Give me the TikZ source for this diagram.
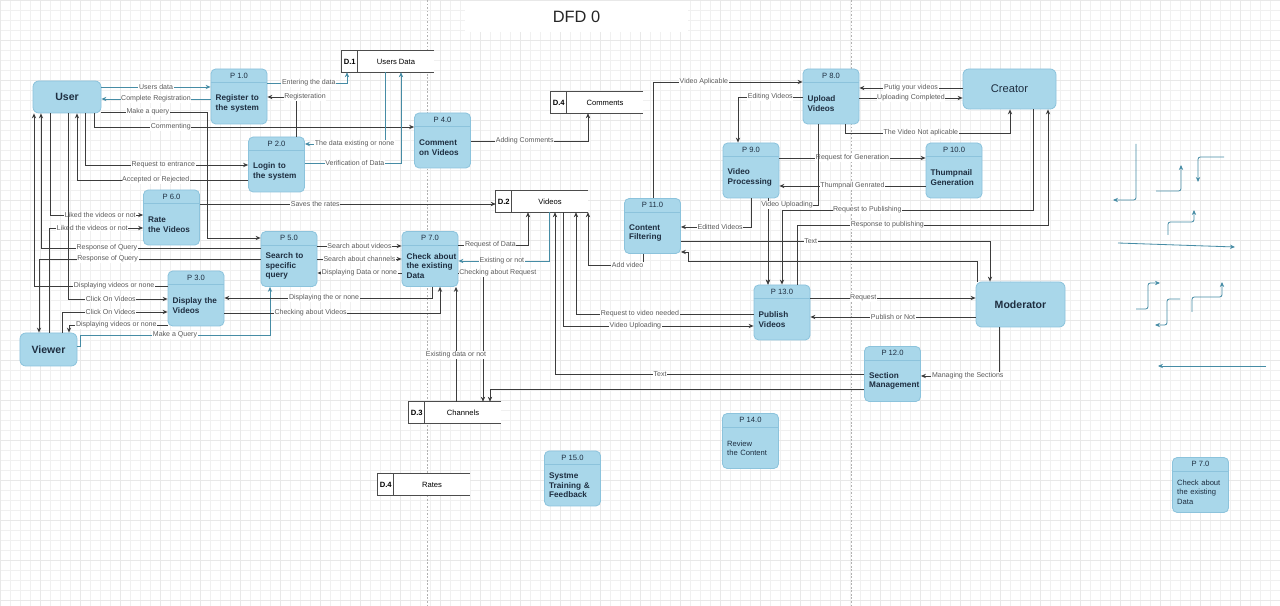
\documentclass[tikz,border=0pt]{standalone}
\usepackage{fontspec}
\setmainfont{Liberation Sans}
\usetikzlibrary{arrows.meta, positioning, calc}
\definecolor{procfill}{HTML}{A9D7EA}
\definecolor{procedge}{HTML}{8CC3DC}
\definecolor{flowline}{HTML}{3C3C3C}
\definecolor{tealline}{HTML}{468CA5}
\definecolor{lblgray}{HTML}{5A5A5A}
\definecolor{inktext}{HTML}{1E2E40}

\begin{document}
\begin{tikzpicture}[x=0.3mm, y=-0.3mm,
    gridminor/.style={step=3mm, draw=black!6, line width=0.3pt},
    gridmajor/.style={step=12mm, draw=black!9, line width=0.3pt},
    pagebreak/.style={draw=black!30, dash pattern=on 1.5pt off 1.5pt, line width=0.5pt},
    titlebox/.style={rectangle, fill=white, minimum width=66.9mm, minimum height=9.3mm,
                     font=\fontsize{14}{16}\selectfont, text=black!85},
    process/.style={rectangle, rounded corners=4pt, draw=procedge, fill=procfill, line width=0.7pt,
                    minimum width=16.8mm, minimum height=16.5mm, inner sep=0pt},
    prochead/.style={font=\fontsize{6.5}{7}\selectfont, text=inktext, inner sep=0pt},
    procbody/.style={font=\bfseries\fontsize{7}{8.2}\selectfont, text=inktext, text width=14mm,
                     align=left, inner sep=0pt},
    procbold/.style={},
    procplain/.style={font=\fontsize{6.5}{8}\selectfont},
    entity/.style={rectangle, rounded corners=5pt, draw=procedge, fill=procfill, line width=0.7pt,
                   font=\bfseries\fontsize{9}{10}\selectfont, text=inktext, inner sep=0pt},
    datastore/.style={rectangle, fill=white, minimum width=27.6mm, minimum height=6.3mm, inner sep=0pt},
    storeline/.style={draw=black!70, line width=0.6pt},
    storeid/.style={font=\bfseries\fontsize{6.5}{7}\selectfont, inner sep=0pt},
    storename/.style={font=\fontsize{6.5}{7}\selectfont, inner sep=0pt},
    dataflow/.style={draw=flowline, line width=0.7pt, -{Stealth[length=1.5mm, width=1.3mm]}},
    tflow/.style={dataflow, draw=tealline},
    lbl/.style={font=\fontsize{6}{7}\selectfont, text=lblgray, fill=white, inner sep=0.5pt},
]
% Canvas
\fill[white] (0,0) rectangle (1280,606);
\useasboundingbox (0,0) rectangle (1280,606);
\draw[gridminor] (0,0) grid (1280,606);
\draw[gridmajor] (0,0) grid (1280,606);
\draw[pagebreak] (427,0) -- (427,606);
\draw[pagebreak] (851,0) -- (851,606);
\node[titlebox] (title) at (576.5,17) {DFD 0};

% External entities
\node[entity, minimum width=20.4mm, minimum height=9.6mm] (user) at (67,97) {User};
\node[entity, minimum width=17.1mm, minimum height=9.9mm] (viewer) at (48.5,349.5) {Viewer};
\node[entity, minimum width=27.9mm, minimum height=12mm, font=\fontsize{9.5}{11}\selectfont] (creator) at (1009.5,89) {Creator};
\node[entity, minimum width=26.7mm, minimum height=13.5mm] (moderator) at (1020.5,304.5) {Moderator};

% Processes
\foreach \n/\cx/\cy/\pid/\txt/\wt in {
    p1/239/96.5/P 1.0/{Register to\\the system}/procbold,
    p2/276.5/164.5/P 2.0/{Login to\\the system}/procbold,
    p4/442.5/140.5/P 4.0/{Comment\\on Videos}/procbold,
    p6/171.5/217.5/P 6.0/{Rate\\the Videos}/procbold,
    p5/289/259/P 5.0/{Search to\\specific\\query}/procbold,
    p7/430/259/P 7.0/{\mbox{Check about}\\the existing\\Data}/procbold,
    p3/196/298.5/P 3.0/{Display the\\Videos}/procbold,
    p8/831/96.5/P 8.0/{Upload\\Videos}/procbold,
    p9/751/170.5/P 9.0/{Video\\Processing}/procbold,
    p10/954/170.5/P 10.0/{Thumpnail\\Generation}/procbold,
    p11/652.5/226/P 11.0/{Content\\Filtering}/procbold,
    p13/782/312.5/P 13.0/{Publish\\Videos}/procbold,
    p12/892.5/374/P 12.0/{Section\\Management}/procbold,
    p14/750.5/441/P 14.0/{Review\\the Content}/procplain,
    p15/572.5/478.5/P 15.0/{Systme\\Training \&\\Feedback}/procbold,
    p7b/1200.5/485/P 7.0/{\mbox{Check about}\\the existing\\Data}/procplain} {
    \node[process] (\n) at (\cx,\cy) {};
    \draw[procedge, line width=0.6pt] ([yshift=-4.2mm]\n.north west) -- ([yshift=-4.2mm]\n.north east);
    \node[prochead] (\n-id) at ([yshift=-2.1mm]\n.north) {\pid};
    \node[procbody, \wt] (\n-txt) at ([yshift=-2.1mm]\n.center) {\txt};
}

% Data stores
\foreach \n/\lx/\ty/\sid/\sname in {
    d1/342/51/D.1/Users Data,
    d4/551/92/D.4/Comments,
    d2/496/191/D.2/Videos,
    d3/409/402/D.3/Channels,
    d6/378/474/D.4/Rates} {
    \node[datastore] (\n) at (\lx+46,\ty+10.5) {};
    \draw[storeline] (\n.north east) -- (\n.north west) -- (\n.south west) -- (\n.south east);
    \draw[storeline] ([xshift=4.8mm]\n.north west) -- ([xshift=4.8mm]\n.south west);
    \node[storeid] (\n-id) at ([xshift=2.4mm]\n.west) {\sid};
    \node[storename] (\n-nm) at ([xshift=2.4mm]\n.center) {\sname};
}

% User and viewer flows
\draw[tflow] (user.east |- 0,87) -- (p1.west |- 0,87) node[lbl, midway] {Users data};
\draw[tflow] (p1.west |- 0,99) -- (user.east |- 0,99) node[lbl, midway] {Complete Registration};
\draw[dataflow] (user.east |- 0,112) -| (207,238) node[lbl, pos=0.22] {Make a query} -- (p5.west |- 0,238);
\draw[dataflow] (user.south -| 94,0) |- (p4.west |- 0,127) node[lbl, pos=0.62] {Commenting};
\draw[dataflow] (user.south -| 85,0) |- (p2.west |- 0,165) node[lbl, pos=0.74] {Request to entrance};
\draw[dataflow] (p2.west |- 0,180) -| (user.south -| 77,0) node[lbl, pos=0.27] {Accepted or Rejected};
\draw[tflow] (p1.east |- 0,83) -| (d1.south -| 347,0) node[lbl, pos=0.26] {Entering the data};
\draw[dataflow] (p2.north -| 296,0) |- (p1.east |- 0,97) node[lbl, pos=0.5, xshift=2.7mm] {Registeration};
\draw[tflow] (d1.south -| 385,0) |- (p2.east |- 0,144) node[lbl, pos=0.69] {The data existing or none};
\draw[tflow] (p2.east |- 0,163) -| (d1.south -| 401,0) node[lbl, pos=0.26] {Verification of Data};
\draw[dataflow] (p4.east |- 0,141) -| (d4.south -| 588,0) node[lbl, pos=0.23] {Adding Comments};
\draw[dataflow] (p6.east |- 0,204) -- (d2.west |- 0,204) node[lbl, pos=0.39] {Saves the rates};
\draw[dataflow] (user.south -| 50,0) |- (p6.west |- 0,215) node[lbl, pos=0.77] {Liked the videos or not};
\draw[dataflow] (viewer.north -| 49,0) |- (p6.west |- 0,228) node[lbl, pos=0.73] {Liked the videos or not};
\draw[dataflow] (p5.west |- 0,248) -| (user.south -| 41,0) node[lbl, pos=0.35] {Response of Query};
\draw[dataflow] (p5.west |- 0,259) -| (viewer.north -| 39,0) node[lbl, pos=0.345] {Response of Query};
\draw[dataflow] (p3.west |- 0,286) -| (user.south -| 34,0) node[lbl, pos=0.2] {Displaying videos or none};
\draw[dataflow] (user.south -| 68,0) |- (p3.west |- 0,299) node[lbl, pos=0.715] {Click On Videos};
\draw[dataflow] (viewer.north -| 62,0) |- (p3.west |- 0,312) node[lbl, pos=0.73] {Click On Videos};
\draw[dataflow] (p3.west |- 0,325) -| (viewer.north -| 69,0) node[lbl, pos=0.26] {Displaying videos or none};
\draw[tflow] (viewer.east |- 0,346) -| (80,335) -| (p5.south -| 270,0) node[lbl, pos=0.25] {Make a Query};

% Search and check
\draw[dataflow] (p5.east |- 0,246) -- (p7.west |- 0,246) node[lbl, midway] {Search about videos};
\draw[dataflow] (p5.east |- 0,259) -- (p7.west |- 0,259) node[lbl, midway] {Search about channels};
\draw[dataflow] (p7.west |- 0,273) -- (p5.east |- 0,273) node[lbl, midway] {Displaying Data or none};
\draw[dataflow] (p7.south -| 432,0) |- (p3.east |- 0,298) node[lbl, pos=0.76] {Displaying the or none};
\draw[dataflow] (p3.east |- 0,313) -| (p7.south -| 440,0) node[lbl, pos=0.2] {Checking about Videos};
\draw[dataflow] (p7.east |- 0,245) -| (d2.south -| 528,0) node[lbl, pos=0.23] {Request of Data};
\draw[tflow] (d2.south -| 549,0) |- (p7.east |- 0,261) node[lbl, pos=0.76] {Existing or not};
\draw[dataflow] (p7.east |- 0,273) -| (d3.north -| 483,0) node[lbl, pos=0, anchor=west] {Checking about Request};
\draw[dataflow] (d3.north -| 456,0) -- (p7.south -| 456,0) node[lbl, pos=0.41] {Existing data or not};

% Creator, moderator and videos
\draw[dataflow] (p11.north -| 653,0) |- (p8.west |- 0,82) node[lbl, pos=0.67] {Video Aplicable};
\draw[dataflow] (creator.west |- 0,88) -- (p8.east |- 0,88) node[lbl, midway] {Putig your videos};
\draw[dataflow] (p8.east |- 0,98) -- (creator.west |- 0,98) node[lbl, midway] {Uploading Completed};
\draw[dataflow] (p8.west |- 0,97) -| (p9.north -| 738,0) node[lbl, pos=0.25] {Editing Videos};
\draw[dataflow] (p8.south -| 845,0) |- (1010,133) node[lbl, pos=0.73] {The Video Not aplicable} -- (creator.south -| 1010,0);
\draw[dataflow] (p9.east |- 0,158) -- (p10.west |- 0,158) node[lbl, midway] {Request for Generation};
\draw[dataflow] (p10.west |- 0,186) -- (p9.east |- 0,186) node[lbl, midway] {Thumpnail Genrated};
\draw[dataflow] (p9.south -| 751,0) |- (p11.east |- 0,227) node[lbl, pos=0.72] {Editted Videos};
\draw[dataflow] (p9.south -| 768,0) -- (p13.north -| 768,0);
\draw[dataflow] (p8.south -| 818,0) |- (768,205) node[lbl, pos=0.81] {Video Uploading} -- (p13.north -| 768,0);
\draw[dataflow] (creator.south -| 1033,0) |- (782,210) node[lbl, pos=0.83] {Request to Publishing} -- (p13.north -| 782,0);
\draw[dataflow] (p13.north -| 797,0) |- (1048,225) node[lbl, pos=0.68] {Response to publishing} -- (creator.south -| 1048,0);
\draw[dataflow] (p11.east |- 0,241) -| (moderator.north -| 990,0) node[lbl, pos=0.21] {Text};
\draw[dataflow] (moderator.north -| 977,0) |- (688,261) |- (p11.east |- 0,252);
\draw[dataflow] (p11.south -| 643,0) |- (588,265) node[lbl, pos=0.64] {Add video} -- (d2.south -| 588,0);
\draw[dataflow] (p13.west |- 0,314) -| (d2.south -| 576,0) node[lbl, pos=0.32] {Request to video needed};
\draw[dataflow] (d2.south -| 563,0) |- (p13.west |- 0,326) node[lbl, pos=0.69] {Video Uploading};
\draw[dataflow] (p12.west |- 0,374) -| (d2.south -| 555,0) node[lbl, pos=0.33] {Text};
\draw[dataflow] (p12.west |- 0,389) -| (d3.north -| 490,0);
\draw[dataflow] (p13.east |- 0,298) -- (moderator.west |- 0,298) node[lbl, pos=0.32] {Request};
\draw[dataflow] (moderator.west |- 0,317) -- (p13.east |- 0,317) node[lbl, midway] {Publish or Not};
\draw[dataflow] (moderator.south -| 999,0) |- (p12.east |- 0,376) node[lbl, pos=0.7] {Managing the Sections};

% Loose arrows on the right
\draw[tflow, rounded corners=2pt] (1136,144) |- (1113,200);
\draw[tflow, rounded corners=2pt] (1156,191) -| (1181,165);
\draw[tflow, rounded corners=2pt] (1224,157) -| (1198,182);
\draw[tflow, rounded corners=2pt] (1168,235) |- (1194,222) -- (1194,210);
\draw[tflow] (1118,243) -- (1235,247);
\draw[tflow, rounded corners=2pt] (1136,309) -- (1148,309) -- (1148,283) -- (1160,283);
\draw[tflow, rounded corners=2pt] (1180,299) -- (1167,299) -- (1167,325) -- (1155,325);
\draw[tflow, rounded corners=2pt] (1192,312) -- (1192,297) -- (1222,297) -- (1222,282);
\draw[tflow] (1266,366) -- (1158,366);
\end{tikzpicture}
\end{document}
